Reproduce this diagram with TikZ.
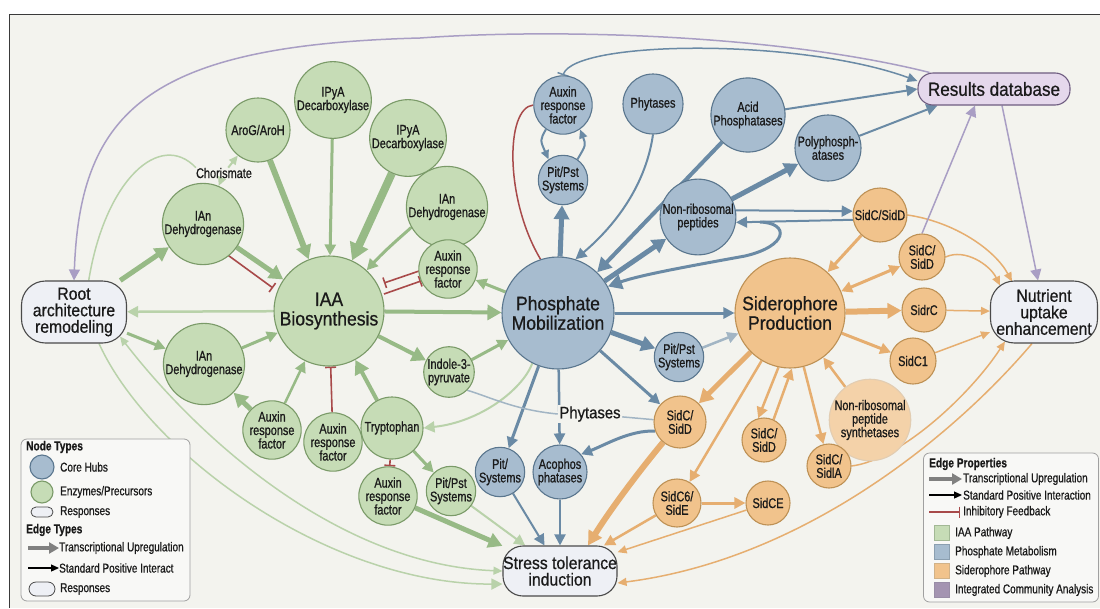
\documentclass[tikz,border=0pt]{standalone}
\usepackage{fontspec}
\setmainfont{Liberation Sans}[FakeStretch=0.9, FakeBold=0.7]
\newfontfamily\condf{Liberation Sans}[FakeStretch=0.78, FakeBold=0.8]
\usetikzlibrary{arrows.meta,calc}
\definecolor{bgc}{HTML}{F3F3EE}
\definecolor{framec}{HTML}{3A3A3A}
\definecolor{txt}{HTML}{1A1A1A}
\definecolor{gF}{HTML}{C6DCB6}
\definecolor{gB}{HTML}{7A9A68}
\definecolor{gE}{HTML}{97BA86}
\definecolor{gL}{HTML}{B9D2AA}
\definecolor{bF}{HTML}{A7BCCF}
\definecolor{bB}{HTML}{5A768E}
\definecolor{bE}{HTML}{6A8AA5}
\definecolor{bL}{HTML}{A2B5C4}
\definecolor{oF}{HTML}{F1C38C}
\definecolor{oB}{HTML}{BE9155}
\definecolor{oE}{HTML}{E6AE70}
\definecolor{pF}{HTML}{E5D8EC}
\definecolor{pB}{HTML}{6E5C80}
\definecolor{pE}{HTML}{A99EC4}
\definecolor{rF}{HTML}{EEF0F5}
\definecolor{rB}{HTML}{4A4A4A}
\definecolor{redc}{HTML}{A84A4A}
\definecolor{legF}{HTML}{F8F8F6}
\definecolor{legB}{HTML}{A0A0A0}
\pgfdeclarelayer{back}
\pgfdeclarelayer{edges}
\pgfsetlayers{back,edges,main}
\begin{document}
\begin{tikzpicture}[x=1pt,y=-1pt,
  every node/.style={text=txt, inner sep=0pt, align=center},
  lbl/.style={font=\condf\fontsize{14}{13.5}\selectfont},
  hubf/.style={font=\fontsize{19.5}{19.5}\selectfont},
  gnode/.style={circle, draw=gB, fill=gF, line width=1.1pt, lbl, minimum size=2*#1},
  bnode/.style={circle, draw=bB, fill=bF, line width=1.1pt, lbl, minimum size=2*#1},
  onode/.style={circle, draw=oB, fill=oF, line width=1.1pt, lbl, minimum size=2*#1},
  resp/.style={draw=rB, fill=rF, line width=1.1pt, font=\fontsize{17.5}{16.5}\selectfont},
  legt/.style={anchor=west, font=\condf\fontsize{12.8}{13}\selectfont},
  legh/.style={anchor=west, font=\condf\bfseries\fontsize{13}{14}\selectfont},
  gedge/.style={draw=gE, line width=#1},
  gledge/.style={draw=gL, line width=#1},
  bedge/.style={draw=bE, line width=#1},
  bledge/.style={draw=bL, line width=#1},
  oedge/.style={draw=oE, line width=#1},
  pedge/.style={draw=pE, line width=#1},
  tS/.style={-{Triangle[length=9pt,width=8pt]}},
  tM/.style={-{Triangle[length=11pt,width=11pt]}},
  tL/.style={-{Triangle[length=14pt,width=15pt]}},
  tXL/.style={-{Triangle[length=17pt,width=19pt]}},
  tMM/.style={{Triangle[length=11pt,width=11pt]}-{Triangle[length=11pt,width=11pt]}},
  tSS/.style={{Triangle[length=9pt,width=8pt]}-{Triangle[length=9pt,width=8pt]}},
  inh/.style={draw=redc, line width=1.6pt, -{Bar[width=11pt]}},
]
\useasboundingbox (0,0) rectangle (1100,608);
\begin{pgfonlayer}{back}
\fill[white] (0,0) rectangle (1100,608);
\fill[bgc] (9,14) rectangle (1100,608);
\draw[framec, line width=1pt] (9,608) -- (9,14) -- (1100,14);
\end{pgfonlayer}

% ---------- IAA group ----------
\node[gnode=55, hubf] (iaa) at (329,311) {IAA\\Biosynthesis};
\node[gnode=32] (aro) at (258,130) {AroG/AroH};
\node[gnode=30] (ipy1) at (333,100) {IPyA\\Decarboxylase};
\node[gnode=32] (ipy2) at (408,138) {IPyA\\Decarboxylase};
\node[gnode=30] (ian1) at (447,207) {IAn\\Dehydrogenase};
\node[gnode=25] (arfG1) at (448,269) {Auxin\\response\\factor};
\node[gnode=30] (ianL) at (203,224) {IAn\\Dehydrogenase};
\node[lbl] (chor) at (224,173) {Chorismate};
\node[gnode=28] (ianB) at (204,364) {IAn\\Dehydrogenase};
\node[gnode=24] (arfG2) at (272,430) {Auxin\\response\\factor};
\node[gnode=24] (arfG3) at (333,442) {Auxin\\response\\factor};
\node[gnode=31] (trp) at (392,428) {Tryptophan};
\node[gnode=25] (ind) at (449,372) {Indole-3-\\pyruvate};
\node[gnode=26] (arfG4) at (388,496) {Auxin\\response\\factor};
\node[gnode=23] (pitG) at (451,491) {Pit/Pst\\Systems};

% ---------- Phosphate group ----------
\node[bnode=56, hubf] (pho) at (558,313) {Phosphate\\Mobilization};
\node[bnode=24] (arfB) at (563,105) {Auxin\\response\\factor};
\node[bnode=24] (pitB1) at (563,180) {Pit/Pst\\Systems};
\node[bnode=30] (phyt) at (653,104) {Phytases};
\node[bnode=32] (acid) at (748,115) {Acid\\Phosphatases};
\node[bnode=33] (poly) at (828,148) {Polyphosph-\\atases};
\node[bnode=32] (nrp) at (698,217) {Non-ribosomal\\peptides};
\node[bnode=23] (pitB2) at (679,357) {Pit/Pst\\Systems};
\node[bnode=24] (pitB3) at (500,472) {Pit/\\Systems};
\node[bnode=27] (acoph) at (560,472) {Acophos\\phatases};
\node[fill=bgc, inner sep=1.5pt, font=\fontsize{16.5}{18}\selectfont] (phylab) at (590,414) {Phytases};

% ---------- Siderophore group ----------
\node[onode=55, hubf] (sid) at (790,313) {Siderophore\\Production};
\node[onode=27] (sd1) at (880,215) {SidC/SidD};
\node[onode=23] (sd2) at (922,257) {SidC/\\SidD};
\node[onode=22] (sidrc) at (924,310) {SidrC};
\node[onode=23] (sidc1) at (913,361) {SidC1};
\node[onode=26] (sd3) at (680,422) {SidC/\\SidD};
\node[onode=22] (sd4) at (764,440) {SidC/\\SidD};
\node[onode=22, draw=oB!45, fill=oF!75] (nrps) at (870,420) {Non-ribosomal\\peptide\\synthetases};
\node[onode=22] (sidla) at (829,466) {SidC/\\SidlA};
\node[onode=24] (sidc6) at (677,503) {SidC6/\\SidE};
\node[onode=22] (sidce) at (768,503) {SidCE};

% ---------- Responses ----------
\node[resp, minimum width=105, minimum height=62, rounded corners=24] (root) at (74,312) {Root\\architecture\\remodeling};
\node[resp, fill=pF, draw=pB, minimum width=152, minimum height=32, rounded corners=15, font=\fontsize{19}{20}\selectfont] (res) at (994,89) {Results database};
\node[resp, minimum width=107, minimum height=62, rounded corners=24] (nut) at (1044,312) {Nutrient\\uptake\\enhancement};
\node[resp, minimum width=114, minimum height=50, rounded corners=20] (stress) at (560,571) {Stress tolerance\\induction};

% ---------- coordinates for inhibitor lines ----------
\coordinate (rA) at (225,253);
\coordinate (rB) at (273,288);
\coordinate (rC) at (422,270);
\coordinate (rD) at (384,283);
\coordinate (rE) at (384,294);
\coordinate (rF) at (421,281);
\coordinate (lp) at (760,222);

\begin{pgfonlayer}{edges}
% purple long arc results -> root
\draw[pedge=1.5, tM] ($(res.north west)+(12,0)$) .. controls (780,35) and (560,28) .. (420,38) .. controls (150,45) and (80,110) .. (root.north);
% blue arc auxin factor -> results
\draw[bedge=1.5, {Bar[width=12pt]}-{Triangle[length=10pt,width=9pt]}] (arfB.north) .. controls (575,40) and (800,38) .. ($(res.west)+(0,-8)$);
% chorismate
\draw[gledge=1.5] (root.65) .. controls (105,180) and (160,130) .. (chor.north west);
\draw[gledge=2, tS] (chor) -- (aro);
\draw[gledge=2, tS] (chor) -- (ianL);
% into IAA
\draw[gedge=6, tL] (aro) -- (iaa);
\draw[gedge=3, tM] (ipy1) -- (iaa);
\draw[gedge=8, tXL] (ipy2) -- (iaa);
\draw[gedge=3, tM] (ian1) .. controls (415,225) and (390,245) .. (iaa);
\draw[gedge=5, tL] (ianL) -- (iaa);
\draw[inh] (rA) -- (rB);
\draw[gedge=5, tL] (root) -- (ianL);
\draw[inh] (rC) -- (rD);
\draw[inh] (rE) -- (rF);
\draw[gedge=3, tM] (pho) -- (arfG1);
\draw[gledge=2.5, tM] (iaa) -- (root);
\draw[gedge=4, tL] (iaa) -- (pho);
\draw[gedge=3, tM] (root) -- (ianB);
\draw[gedge=3, tM] (ianB) -- (iaa);
\draw[gedge=5, tL] (arfG2) -- (ianB);
\draw[gedge=2.5, tM] (arfG2) -- (iaa);
\draw[inh] (arfG3) -- (iaa);
\draw[gedge=4, tL] (trp) -- (iaa);
\draw[gedge=4, tL] (iaa) -- (ind);
\draw[gedge=3, tM] (ind) -- (pho);
\draw[gledge=2, tM] (pho.243) .. controls (522,390) and (480,422) .. (trp.east);
\draw[inh] (trp) -- (arfG4);
\draw[gedge=3, tM] (trp) -- (pitG);
\draw[gedge=5, tL] (arfG4) -- (stress);
\draw[gledge=2, tM] (pitG) -- (stress);
\draw[gledge=1.5, tM] ($(root.south)+(25,0)$) .. controls (150,455) and (330,585) .. ($(stress.west)+(0,13)$);
\draw[gledge=1.5, tSS] ($(root.south east)+(-7,-7)$) .. controls (200,440) and (340,565) .. (stress.west);
% phosphate group
\draw[redc, line width=1.5pt] (arfB.west) .. controls (505,108) and (505,200) .. (pho.108);
\draw[bedge=2, tS] (arfB.235) .. controls (540,140) .. (pitB1.125);
\draw[bedge=2, tS] (pitB1.55) .. controls (586,145) .. (arfB.305);
\draw[bedge=5, tL] (pho) -- (pitB1);
\draw[bedge=2, tM] (phyt.south) .. controls (645,190) and (610,230) .. (pho.72);
\draw[bedge=4, tL] (acid) -- (pho);
\draw[bedge=2, tM] (acid) -- (res.west);
\draw[bedge=2, tM] (poly) -- ($(res.south west)+(20,0)$);
\draw[bedge=5, tL] (pho) -- (nrp);
\draw[bedge=5, tL] (nrp) -- (poly);
\draw[bedge=2, tM] (nrp.10) -- (sd1.172);
\draw[bedge=2, tM] (sd1.190) -- (nrp.352);
\draw[bedge=3, tL] (lp) .. controls (790,223) and (788,246) .. (745,256) .. controls (690,266) and (640,275) .. (pho.28);
\draw[bedge=3, tM] (pho) -- (sid);
\draw[bedge=5, tL] (pho) -- (pitB2);
\draw[bledge=2.5, tM] (pitB2) -- (sid);
\draw[bedge=3, tM] (pho) -- (sd3);
\draw[bedge=3, tM] (pho) -- (pitB3);
\draw[bedge=2.5, tM] (pho) -- (acoph);
\draw[bledge=1.5] (phylab) -- (sd3);
\draw[bledge=1.5] (ind.south east) .. controls (490,397) and (515,410) .. (phylab.west);
\draw[bedge=3, tM] (sd3.200) .. controls (630,430) and (605,445) .. (acoph.40);
\draw[bedge=2, tM] (pitB3) -- (stress);
\draw[bedge=2, tM] (acoph) -- (stress);
% siderophore group
\draw[oedge=3, tM] (sd1) -- (sid);
\draw[oedge=3, tMM] (sid) -- (sd2);
\draw[oedge=6, tL] (sid) -- (sidrc);
\draw[oedge=3, tM] (sid) -- (sidc1);
\draw[oedge=1.5, tS] (sidrc) -- (nut);
\draw[oedge=1.5, tS] (sidc1) -- (nut);
\draw[oedge=1.5, tS] (sd1.east) .. controls (955,222) and (995,250) .. ($(nut.north west)+(22,1)$);
\draw[oedge=1.5, tS] (sd2.east) .. controls (965,248) and (990,265) .. ($(nut.north west)+(10,5)$);
\draw[pedge=1.5, tM] (sd2.north) -- ($(res.south)+(-19,0)$);
\draw[pedge=1.5, tM] ($(res.south)+(8,0)$) -- ($(nut.north)+(-6,0)$);
\draw[oedge=5, tL] (sid) -- (sd3);
\draw[oedge=6, tL] (sd3) .. controls (640,470) and (610,510) .. ($(stress.north)+(28,0)$);
\draw[oedge=2.5, tM] (sid) -- (sidc6);
\draw[oedge=2.5, tM] (sid.258) -- (sd4.105);
\draw[oedge=2.5, tM] (sd4.65) -- (sid.272);
\draw[oedge=2.5, tM] (sid) -- (sidla);
\draw[oedge=2.5, tM] (nrps) -- (sid);
\draw[oedge=3, tM] (sidc6) -- (sidce);
\draw[oedge=2.5, tM] (sidc6) -- (stress);
\draw[oedge=1.5, tS] (sidce) -- (stress);
\draw[oedge=1.5, tS] (sidla.east) .. controls (900,460) and (970,395) .. ($(nut.south west)+(15,-2)$);
\draw[oedge=1.5, tS] ($(nut.south)+(-12,0)$) .. controls (950,440) and (800,560) .. ($(stress.east)+(0,12)$);
\end{pgfonlayer}

% ---------- left legend ----------
\node[draw=legB, fill=legF, line width=0.8pt, rounded corners=6, minimum width=169, minimum height=162] (legL) at (105.5,520) {};
\node[legh] (lh1) at (26,447) {Node Types};
\node[bnode=12] (lc1) at (42,467) {};
\node[legt] (lt1) at (60,467) {Core Hubs};
\node[gnode=11] (lc2) at (42,492) {};
\node[legt] (lt2) at (60,492) {Enzymes/Precursors};
\node[draw=rB, fill=rF, line width=0.8pt, rounded corners=5, minimum width=22, minimum height=10] (lc3) at (42,512) {};
\node[legt] (lt3) at (60,512) {Responses};
\node[legh] (lh2) at (26,530) {Edge Types};
\coordinate (la1) at (28,548);
\coordinate (la2) at (59,548);
\draw[gray, line width=4pt, -{Triangle[length=10pt,width=11pt]}] (la1) -- (la2);
\node[legt] (lt4) at (59,548) {Transcriptional Upregulation};
\coordinate (la3) at (28,568);
\coordinate (la4) at (59,568);
\draw[black, line width=1.2pt, -{Triangle[length=8pt,width=7pt]}] (la3) -- (la4);
\node[legt] (lt5) at (59,568) {Standard Positive Interact};
\node[draw=rB, fill=rF, line width=0.8pt, rounded corners=7, minimum width=26, minimum height=14] (lc4) at (42,589) {};
\node[legt] (lt6) at (60,589) {Responses};

% ---------- right legend ----------
\node[draw=legB, fill=legF, line width=0.8pt, rounded corners=6, minimum width=175, minimum height=149] (legR) at (1011,527.5) {};
\node[legh] (rh1) at (929,464) {Edge Properties};
\coordinate (ra1) at (929,479);
\coordinate (ra2) at (962,479);
\draw[gray, line width=4pt, -{Triangle[length=10pt,width=11pt]}] (ra1) -- (ra2);
\node[legt] (rt1) at (963,479) {Transcriptional Upregulation};
\coordinate (ra3) at (929,495);
\coordinate (ra4) at (962,495);
\draw[black, line width=1.2pt, -{Triangle[length=8pt,width=7pt]}] (ra3) -- (ra4);
\node[legt] (rt2) at (963,495) {Standard Positive Interaction};
\coordinate (ra5) at (929,512);
\coordinate (ra6) at (960,512);
\draw[redc, line width=1.4pt, -{Bar[width=11pt]}] (ra5) -- (ra6);
\node[legt] (rt3) at (963,512) {Inhibitory Feedback};
\node[draw=gB!70, fill=gF, minimum width=15, minimum height=15] (rs1) at (942,533) {};
\node[legt] (rt4) at (955,533) {IAA Pathway};
\node[draw=bB!70, fill=bF, minimum width=15, minimum height=15] (rs2) at (942,552) {};
\node[legt] (rt5) at (955,552) {Phosphate Metabolism};
\node[draw=oB!70, fill=oF, minimum width=15, minimum height=15] (rs3) at (942,571) {};
\node[legt] (rt6) at (955,571) {Siderophore Pathway};
\node[draw=pB!70, fill=pB!55!pF, minimum width=15, minimum height=15] (rs4) at (942,590) {};
\node[legt] (rt7) at (955,590) {Integrated Community Analysis};
\end{tikzpicture}
\end{document}
